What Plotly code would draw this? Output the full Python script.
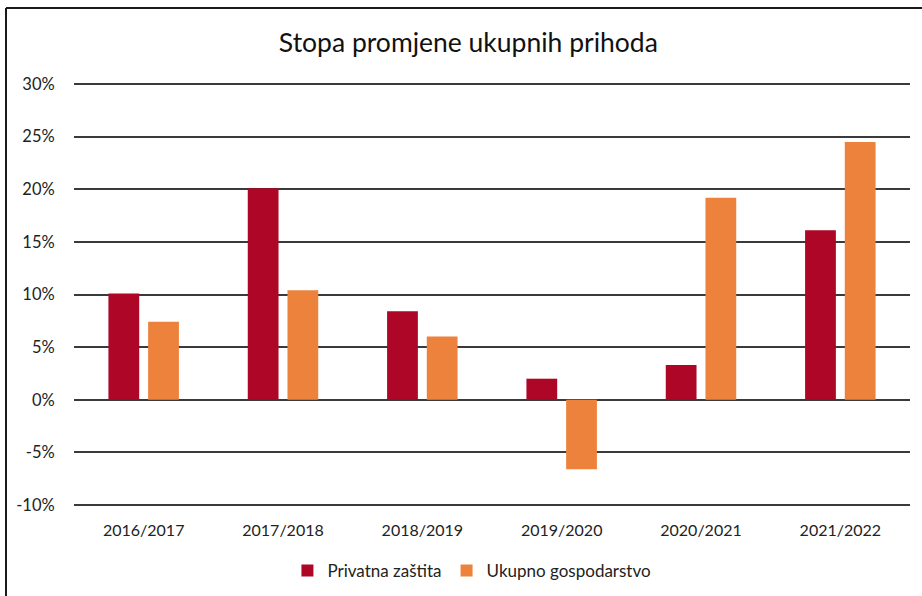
import plotly.graph_objects as go

categories = ["2016/2017", "2017/2018", "2018/2019", "2019/2020", "2020/2021", "2021/2022"]
privatna_zastita = [10.1, 20.1, 8.4, 2.0, 3.3, 16.1]
ukupno_gospodarstvo = [7.4, 10.4, 6.0, -6.6, 19.2, 24.5]
y_tickvals = [-10, -5, 0, 5, 10, 15, 20, 25, 30]
y_ticktext = ["-10%", "-5%", "0%", "5%", "10%", "15%", "20%", "25%", "30%"]

FONT = "Lato, 'Open Sans', sans-serif"

fig = go.Figure()
fig.add_trace(go.Bar(name="Privatna zaštita", x=categories, y=privatna_zastita,
                     marker=dict(color="#AE0626", line=dict(width=0))))
fig.add_trace(go.Bar(name="Ukupno gospodarstvo", x=categories, y=ukupno_gospodarstvo,
                     marker=dict(color="#ED823D", line=dict(width=0))))

W, H = 922, 596
L, R, T, B = 74, 12, 82, 89
pw, ph = W - L - R, H - T - B

def px(x):
    return (x - L) / pw

def py(y):
    return (H - B - y) / ph

fig.update_layout(
    width=W, height=H,
    margin=dict(l=L, r=R, t=T, b=B, autoexpand=False),
    paper_bgcolor="white", plot_bgcolor="white",
    barmode="group", bargap=0.43, bargroupgap=0.225,
    font=dict(family=FONT, size=16, color="#222222"),
    title=dict(text="Stopa promjene ukupnih prihoda", x=0.508, xanchor="center",
               y=1 - 43 / H, yanchor="middle",
               font=dict(family=FONT, size=26.5, color="#111111")),
    showlegend=True,
    legend=dict(orientation="h", x=0.476, xanchor="center", y=py(571), yanchor="middle",
                font=dict(family=FONT, size=17, color="#222222"),
                itemwidth=30, traceorder="normal"),
    xaxis=dict(showgrid=False, showline=False, zeroline=False,
               ticks="outside", ticklen=9, tickcolor="rgba(0,0,0,0)",
               tickfont=dict(family=FONT, size=16, color="#222222")),
    yaxis=dict(range=[-10.19, 30.19], tickvals=y_tickvals, ticktext=y_ticktext,
               showgrid=True, gridcolor="#3a3a3a", gridwidth=1.5,
               zeroline=True, zerolinecolor="#3a3a3a", zerolinewidth=1.5,
               showline=False, ticks="outside", ticklen=15, tickcolor="rgba(0,0,0,0)",
               tickfont=dict(family=FONT, size=16.5, color="#222222")),
    shapes=[
        dict(type="line", xref="paper", yref="paper", x0=px(6), x1=px(6), y0=py(600), y1=py(8),
             line=dict(color="#1a1a1a", width=2)),
        dict(type="line", xref="paper", yref="paper", x0=px(6), x1=px(930), y0=py(8), y1=py(8),
             line=dict(color="#1a1a1a", width=2)),
    ],
)

fig.write_html("out.html", config={"displayModeBar": False},
               post_script="document.body.style.margin='0';")
